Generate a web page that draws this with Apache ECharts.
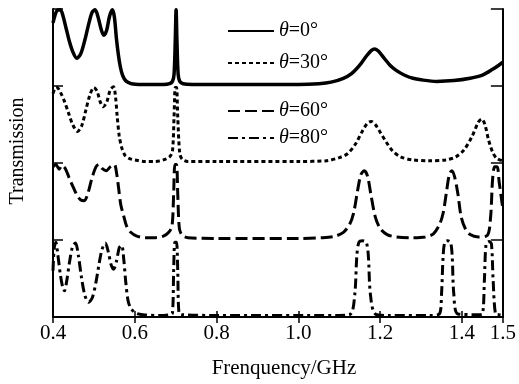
<!DOCTYPE html>
<html>
<head>
<meta charset="utf-8">
<script src="https://cdn.jsdelivr.net/npm/echarts@6/dist/echarts.min.js"></script>
<style>
  html, body { margin: 0; padding: 0; background: #fff; }
  #chart { width: 519px; height: 384px; }
</style>
</head>
<body>
<div id="chart"></div>
<script>
// x tick labels (GHz)
const xTicks = [0.4, 0.6, 0.8, 1.0, 1.2, 1.4, 1.5]
const angles = ['0', '30', '60', '80']
// each curve is shifted up by its offset (stacked panels)
const offsets = [3, 2, 1, 0]

// theta = 0
const f0 = [0.400, 0.405, 0.410, 0.418, 0.425, 0.432, 0.440, 0.448, 0.458, 0.468, 0.478, 0.488,
  0.496, 0.503, 0.510, 0.517, 0.524, 0.531, 0.538, 0.545, 0.550, 0.555, 0.560, 0.565, 0.570,
  0.576, 0.583, 0.592, 0.610, 0.640, 0.670, 0.685, 0.692, 0.696, 0.699, 0.701, 0.703, 0.706,
  0.710, 0.718, 0.740, 0.800, 0.900, 1.000, 1.050, 1.080, 1.110, 1.130, 1.150, 1.165, 1.178,
  1.187, 1.196, 1.210, 1.224, 1.240, 1.260, 1.280, 1.300, 1.338, 1.380, 1.420, 1.450, 1.476,
  1.490, 1.500]
const t0 = [0.82, 0.92, 0.98, 0.99, 0.90, 0.75, 0.58, 0.45, 0.36, 0.42, 0.60, 0.82,
  0.96, 0.99, 0.90, 0.75, 0.66, 0.72, 0.90, 0.99, 0.90, 0.62, 0.40, 0.24, 0.14,
  0.08, 0.05, 0.03, 0.02, 0.02, 0.02, 0.03, 0.06, 0.15, 0.60, 0.99, 0.60, 0.15,
  0.06, 0.03, 0.02, 0.02, 0.02, 0.02, 0.03, 0.05, 0.10, 0.16, 0.27, 0.38, 0.46,
  0.48, 0.45, 0.36, 0.27, 0.20, 0.14, 0.10, 0.08, 0.06, 0.07, 0.10, 0.14, 0.22,
  0.27, 0.31]

// theta = 30
const f1 = [0.400, 0.405, 0.410, 0.418, 0.428, 0.438, 0.448, 0.460, 0.470, 0.480, 0.490, 0.500,
  0.508, 0.515, 0.523, 0.532, 0.540, 0.548, 0.553, 0.557, 0.562, 0.568, 0.576, 0.586, 0.600,
  0.625, 0.650, 0.670, 0.685, 0.692, 0.696, 0.699, 0.702, 0.705, 0.710, 0.716, 0.730, 0.800,
  1.000, 1.070, 1.100, 1.120, 1.140, 1.155, 1.168, 1.178, 1.188, 1.200, 1.215, 1.230, 1.250,
  1.280, 1.320, 1.360, 1.385, 1.405, 1.425, 1.440, 1.448, 1.456, 1.465, 1.475, 1.485, 1.500]
const t1 = [0.90, 0.97, 0.98, 0.92, 0.80, 0.65, 0.50, 0.41, 0.48, 0.68, 0.88, 0.98,
  0.93, 0.80, 0.73, 0.80, 0.95, 0.99, 0.85, 0.60, 0.35, 0.20, 0.10, 0.06, 0.04,
  0.02, 0.02, 0.04, 0.08, 0.15, 0.60, 0.98, 0.98, 0.60, 0.12, 0.05, 0.02, 0.02,
  0.02, 0.03, 0.07, 0.12, 0.25, 0.40, 0.51, 0.54, 0.50, 0.40, 0.27, 0.16, 0.08,
  0.04, 0.03, 0.04, 0.08, 0.17, 0.35, 0.53, 0.57, 0.50, 0.30, 0.14, 0.06, 0.03]

// theta = 60
const f2 = [0.400, 0.407, 0.415, 0.422, 0.430, 0.440, 0.450, 0.460, 0.468, 0.476, 0.485, 0.495,
  0.505, 0.512, 0.520, 0.530, 0.540, 0.550, 0.556, 0.561, 0.566, 0.572, 0.580, 0.590, 0.605,
  0.625, 0.650, 0.670, 0.683, 0.691, 0.695, 0.698, 0.702, 0.705, 0.709, 0.716, 0.730, 0.800,
  1.000, 1.060, 1.090, 1.110, 1.125, 1.135, 1.145, 1.153, 1.161, 1.169, 1.177, 1.188, 1.200,
  1.217, 1.240, 1.280, 1.310, 1.330, 1.345, 1.354, 1.362, 1.369, 1.375, 1.382, 1.390, 1.398,
  1.408, 1.420, 1.440, 1.462, 1.470, 1.475, 1.480, 1.486, 1.491, 1.500]
const t2 = [0.95, 0.98, 0.92, 0.97, 0.93, 0.80, 0.68, 0.57, 0.52, 0.51, 0.60, 0.80,
  0.95, 0.98, 0.93, 0.90, 0.95, 0.98, 0.85, 0.65, 0.45, 0.33, 0.18, 0.10, 0.05,
  0.03, 0.03, 0.05, 0.10, 0.18, 0.60, 0.98, 0.98, 0.60, 0.15, 0.06, 0.03, 0.02,
  0.02, 0.03, 0.05, 0.10, 0.20, 0.35, 0.65, 0.85, 0.90, 0.83, 0.60, 0.30, 0.15,
  0.07, 0.04, 0.03, 0.04, 0.08, 0.20, 0.35, 0.62, 0.85, 0.90, 0.82, 0.60, 0.30,
  0.15, 0.07, 0.04, 0.06, 0.30, 0.80, 0.95, 0.95, 0.75, 0.40]

// theta = 80
const f3 = [0.400, 0.403, 0.407, 0.412, 0.418, 0.424, 0.428, 0.433, 0.440, 0.448, 0.455, 0.462,
  0.470, 0.478, 0.487, 0.496, 0.505, 0.513, 0.520, 0.528, 0.535, 0.542, 0.548, 0.555, 0.562,
  0.568, 0.573, 0.578, 0.584, 0.592, 0.603, 0.620, 0.660, 0.685, 0.692, 0.695, 0.698, 0.702,
  0.705, 0.708, 0.715, 0.800, 1.100, 1.128, 1.138, 1.143, 1.148, 1.157, 1.166, 1.171, 1.176,
  1.188, 1.220, 1.320, 1.345, 1.350, 1.354, 1.358, 1.365, 1.372, 1.376, 1.380, 1.390, 1.440,
  1.450, 1.455, 1.459, 1.466, 1.472, 1.476, 1.482, 1.490, 1.500]
const t3 = [0.60, 0.90, 0.97, 0.80, 0.55, 0.38, 0.34, 0.45, 0.70, 0.92, 0.96, 0.80,
  0.50, 0.28, 0.19, 0.25, 0.45, 0.70, 0.88, 0.96, 0.85, 0.68, 0.62, 0.72, 0.90,
  0.93, 0.75, 0.45, 0.20, 0.10, 0.05, 0.03, 0.02, 0.03, 0.05, 0.60, 0.97, 0.97,
  0.60, 0.05, 0.03, 0.02, 0.02, 0.04, 0.30, 0.80, 0.97, 0.99, 0.97, 0.80, 0.30,
  0.04, 0.02, 0.02, 0.04, 0.30, 0.80, 0.97, 0.99, 0.97, 0.80, 0.30, 0.04, 0.03,
  0.04, 0.50, 0.95, 0.98, 0.95, 0.50, 0.04, 0.03, 0.02]

const freqs = [f0, f1, f2, f3]
const trans = [t0, t1, t2, t3]
const lineTypes = ['solid', [4, 3], [12, 5], [10, 4, 3, 4]]
const lineWidths = [3.5, 3, 3, 3]

const font = 'Liberation Serif, Times New Roman, serif'
const names = angles.map(a => 'θ=' + a + '°')

const chart = echarts.init(document.getElementById('chart'))

const series = names.map((name, k) => ({
  name: name,
  type: 'line',
  symbol: 'none',
  smooth: 0.3,
  data: freqs[k].map((f, i) => [f, trans[k][i] + offsets[k]]),
  lineStyle: { color: '#000', width: lineWidths[k], type: lineTypes[k] },
  itemStyle: { color: '#000' },
  animation: false,
}))

const legendBase = {
  orient: 'vertical',
  left: 222,
  itemWidth: 46,
  itemHeight: 14,
  // hide the legend marker, keep only the line sample
  itemStyle: { opacity: 0 },
  formatter: n => '{i|θ}' + n.slice(1),
  textStyle: {
    fontFamily: font, fontSize: 20, color: '#000', lineHeight: 20,
    rich: { i: { fontFamily: font, fontSize: 20, fontStyle: 'italic', color: '#000' } },
  },
}

const option = {
  backgroundColor: '#fff',
  animation: false,
  grid: { left: 52, right: 12, top: 9, bottom: 62 },
  legend: [
    { ...legendBase, top: 16, itemGap: 12, data: [names[0], names[1]] },
    { ...legendBase, top: 96, itemGap: 7, data: [names[2], names[3]] },
  ],
  xAxis: [{
    type: 'value',
    min: 0.4,
    max: 1.5,
    name: 'Frenquency/GHz',
    nameLocation: 'middle',
    nameGap: 41,
    nameTextStyle: { fontFamily: font, fontSize: 21, color: '#000', padding: [0, 0, 0, 12] },
    axisLine: { lineStyle: { color: '#000', width: 2 } },
    axisTick: { inside: true, length: 6, customValues: xTicks, lineStyle: { color: '#000', width: 1.5 } },
    axisLabel: {
      customValues: xTicks, margin: 6, fontFamily: font, fontSize: 21, color: '#000',
      formatter: v => v.toFixed(1),
    },
    splitLine: { show: false },
  }, {
    type: 'value',
    position: 'top',
    min: 0.4,
    max: 1.5,
    axisLine: { lineStyle: { color: '#000', width: 2 } },
    axisTick: { inside: true, length: 6, customValues: xTicks, lineStyle: { color: '#000', width: 1.5 } },
    axisLabel: { show: false },
    splitLine: { show: false },
  }],
  yAxis: [{
    type: 'value',
    min: 0,
    max: 4,
    interval: 1,
    name: 'Transmission',
    nameLocation: 'middle',
    nameGap: 25,
    nameTextStyle: { fontFamily: font, fontSize: 20, color: '#000', padding: [0, 0, 0, 24] },
    axisLine: { lineStyle: { color: '#000', width: 2 } },
    axisTick: { inside: true, length: 10, lineStyle: { color: '#000', width: 1.5 } },
    axisLabel: { show: false },
    splitLine: { show: false },
  }, {
    type: 'value',
    position: 'right',
    min: 0,
    max: 4,
    interval: 1,
    axisLine: { lineStyle: { color: '#000', width: 2 } },
    axisTick: { inside: true, length: 12, lineStyle: { color: '#000', width: 1.5 } },
    axisLabel: { show: false },
    splitLine: { show: false },
  }],
  series: series,
}

chart.setOption(option)

window.addEventListener('resize', () => chart.resize())
</script>
</body>
</html>
